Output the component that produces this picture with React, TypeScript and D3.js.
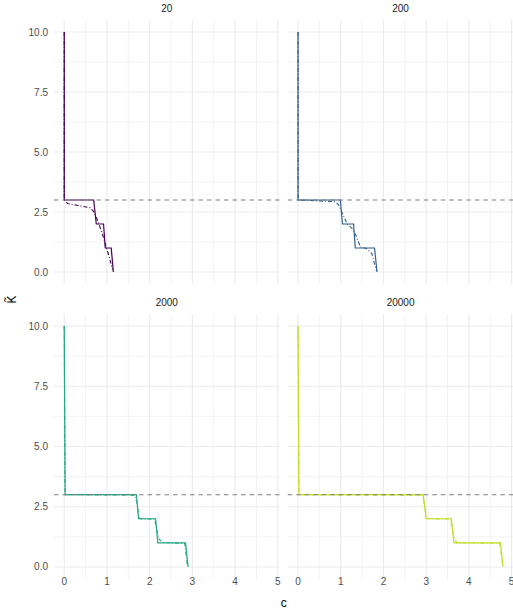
import React from "react";
import * as d3 from "d3";

// Facet labels (population size)
const facetLabels = ["20", "200", "2000", "20000"];
const facetColorPos = [0, 0.3, 0.6, 0.9];

// Solid step lines (c, K~)
const solidC20 = [0, 0, 0.69, 0.75, 0.92, 0.96, 1.1, 1.15];
const solidK20 = [10, 3, 3, 2, 2, 1, 1, 0];
const solidC200 = [0, 0, 0.99, 1.04, 1.3, 1.34, 1.79, 1.85];
const solidK200 = [10, 3, 3, 2, 2, 1, 1, 0];
const solidC2000 = [0, 0.02, 1.69, 1.74, 2.14, 2.19, 2.84, 2.9];
const solidK2000 = [10, 3, 3, 2, 2, 1, 1, 0];
const solidC20000 = [0, 0.02, 2.93, 3.0, 3.59, 3.65, 4.74, 4.8];
const solidK20000 = [10, 3, 3, 2, 2, 1, 1, 0];

// Dash-dot lines (c, K~)
const dashC20 = [0, 0, 0.08, 0.3, 0.6, 0.7, 0.8, 0.9, 0.98, 1.05, 1.13];
const dashK20 = [10, 3, 2.85, 2.78, 2.68, 2.5, 2.05, 1.55, 1.05, 0.65, 0.1];
const dashC200 = [0, 0, 0.87, 0.95, 1.06, 1.15, 1.26, 1.36, 1.46, 1.6, 1.73, 1.81, 1.84];
const dashK200 = [10, 3, 2.93, 2.8, 2.36, 2.0, 1.83, 1.5, 1.04, 0.98, 0.76, 0.2, 0.05];
const dashC2000 = [0, 0.02, 1.65, 1.71, 1.74, 1.78, 2.12, 2.17, 2.22, 2.3, 2.82, 2.88];
const dashK2000 = [10, 3, 2.98, 2.6, 2.1, 2.0, 1.98, 1.5, 1.15, 1.02, 0.98, 0.1];
const dashC20000 = [0, 0.02, 2.9, 2.96, 3.0, 3.05, 3.56, 3.62, 3.66, 3.72, 4.72, 4.79];
const dashK20000 = [10, 3, 2.98, 2.6, 2.1, 2.0, 1.99, 1.5, 1.2, 1.0, 0.98, 0.1];

const hlineK = 3;

const xTicks = [0, 1, 2, 3, 4, 5];
const xMinor = [0.5, 1.5, 2.5, 3.5, 4.5];
const yTicks = [0, 2.5, 5, 7.5, 10];
const yTickLabels = ["0.0", "2.5", "5.0", "7.5", "10.0"];
const yMinor = [1.25, 3.75, 6.25, 8.75];

const solids = [
  [solidC20, solidK20],
  [solidC200, solidK200],
  [solidC2000, solidK2000],
  [solidC20000, solidK20000],
];
const dashes = [
  [dashC20, dashK20],
  [dashC200, dashK200],
  [dashC2000, dashK2000],
  [dashC20000, dashK20000],
];

const W = 513;
const H = 611;
const colX = [
  [54, 279.5],
  [287.8, 513.3],
];
const rowY = [
  [20, 284],
  [314, 579],
];

const FONT = "'Liberation Sans', Arial, sans-serif";

function zip(xs: number[], ys: number[]): [number, number][] {
  return xs.map((x, i) => [x, ys[i]]);
}

export default function App() {
  const panels = facetLabels.map((lab, i) => {
    const col = i % 2;
    const row = Math.floor(i / 2);
    const x = d3.scaleLinear().domain([-0.24, 5.04]).range(colX[col]);
    const y = d3.scaleLinear().domain([-0.5, 10.5]).range([rowY[row][1], rowY[row][0]]);
    const line = d3
      .line<[number, number]>()
      .x((d) => x(d[0]))
      .y((d) => y(d[1]));
    const color = d3.interpolateViridis(facetColorPos[i]);
    const [x0, x1] = colX[col];
    const [y0, y1] = rowY[row];
    return (
      <g key={lab}>
        {/* minor grid */}
        {xMinor.map((t) => (
          <line key={"xm" + t} x1={x(t)} x2={x(t)} y1={y0} y2={y1} stroke="#EBEBEB" strokeWidth={0.6} />
        ))}
        {yMinor.map((t) => (
          <line key={"ym" + t} x1={x0} x2={x1} y1={y(t)} y2={y(t)} stroke="#EBEBEB" strokeWidth={0.6} />
        ))}
        {/* major grid */}
        {xTicks.map((t) => (
          <line key={"xM" + t} x1={x(t)} x2={x(t)} y1={y0} y2={y1} stroke="#EBEBEB" strokeWidth={1.1} />
        ))}
        {yTicks.map((t) => (
          <line key={"yM" + t} x1={x0} x2={x1} y1={y(t)} y2={y(t)} stroke="#EBEBEB" strokeWidth={1.1} />
        ))}
        {/* strip label */}
        <text
          x={(x0 + x1) / 2}
          y={y0 - 12}
          textAnchor="middle"
          dominantBaseline="central"
          fontSize={10}
          fill="#1A1A1A"
          fontFamily={FONT}
        >
          {lab}
        </text>
        {/* data lines */}
        <path
          d={line(zip(dashes[i][0], dashes[i][1])) || ""}
          fill="none"
          stroke={color}
          strokeWidth={1.1}
          strokeDasharray="4,2,1,2"
        />
        <path d={line(zip(solids[i][0], solids[i][1])) || ""} fill="none" stroke={color} strokeWidth={1.2} />
        {/* reference line */}
        <line
          x1={x0}
          x2={x1}
          y1={y(hlineK)}
          y2={y(hlineK)}
          stroke="#7F7F7F"
          strokeWidth={1.1}
          strokeDasharray="4.5,4"
        />
        {/* y axis labels */}
        {col === 0 &&
          yTicks.map((t, j) => (
            <text
              key={"yl" + t}
              x={48}
              y={y(t)}
              textAnchor="end"
              dominantBaseline="central"
              fontSize={10}
              fill="#4D4D4D"
              fontFamily={FONT}
            >
              {yTickLabels[j]}
            </text>
          ))}
        {/* x axis labels */}
        {row === 1 &&
          xTicks.map((t) => (
            <text
              key={"xl" + t}
              x={x(t)}
              y={581}
              textAnchor="middle"
              dominantBaseline="central"
              fontSize={10}
              fill="#4D4D4D"
              fontFamily={FONT}
            >
              {String(t)}
            </text>
          ))}
      </g>
    );
  });

  return (
    <svg
      width={W}
      height={H}
      style={{ position: "absolute", left: 0, top: 0, background: "#FFFFFF" }}
    >
      <rect x={0} y={0} width={W} height={H} fill="#FFFFFF" />
      {panels}
      <text
        x={(colX[0][0] + colX[1][1]) / 2}
        y={603}
        textAnchor="middle"
        dominantBaseline="central"
        fontSize={12}
        fill="#000000"
        fontFamily={FONT}
      >
        c
      </text>
      <text
        transform={`translate(12,${(rowY[0][0] + rowY[1][1]) / 2}) rotate(-90)`}
        textAnchor="middle"
        dominantBaseline="central"
        fontSize={12}
        fill="#000000"
        fontFamily={FONT}
      >
        {"K\u0303"}
      </text>
    </svg>
  );
}
